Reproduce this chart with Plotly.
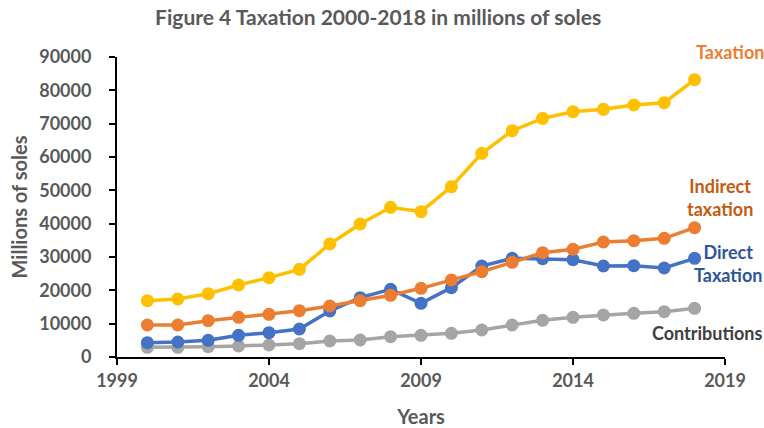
import plotly.graph_objects as go

years = list(range(2000, 2019))
taxation = [16900, 17400, 19000, 21600, 23800, 26300, 33900, 39900, 44900, 43600,
            51100, 61100, 67900, 71600, 73600, 74300, 75600, 76300, 83200]
indirect = [9600, 9600, 10900, 11900, 12800, 13900, 15300, 16900, 18500, 20600,
            23100, 25600, 28400, 31300, 32300, 34500, 34900, 35600, 38800]
direct = [4300, 4500, 5000, 6500, 7300, 8400, 13800, 17800, 20300, 16100,
          20800, 27300, 29600, 29500, 29200, 27300, 27400, 26700, 29600]
contrib = [2900, 2900, 3100, 3300, 3600, 4000, 4800, 5100, 6100, 6500,
           7100, 8100, 9600, 11000, 11900, 12600, 13100, 13600, 14600]

x_ticks = [1999, 2004, 2009, 2014, 2019]
y_ticks = list(range(0, 90001, 10000))

FONT = "Lato"
GREY = "#595959"

series = [
    ("Contributions", contrib, "#A5A5A5"),
    ("Direct Taxation", direct, "#4472C4"),
    ("Indirect taxation", indirect, "#ED7D31"),
    ("Taxation", taxation, "#FFC000"),
]

fig = go.Figure()
for name, vals, col in series:
    fig.add_trace(go.Scatter(
        x=years, y=vals, name=name, mode="lines+markers",
        line=dict(color=col, width=3.5),
        marker=dict(color=col, size=13),
        showlegend=False,
    ))

# series labels placed in paper coordinates next to the line ends
labels = [
    ("Taxation", 1.008, 1.017, "#ED7D31"),
    ("Indirect<br>taxation", 0.992, 0.533, "#C55A11"),
    ("Direct<br>Taxation", 1.005, 0.313, "#2F5597"),
    ("Contributions", 0.972, 0.080, "#404040"),
]
for txt, xv, yv, col in labels:
    fig.add_annotation(x=xv, y=yv, xref="paper", yref="paper", text=txt, showarrow=False,
                       font=dict(family=FONT, size=18, color=col, weight="bold"),
                       xanchor="center", yanchor="middle")

fig.update_layout(
    width=764, height=428,
    margin=dict(l=117, r=39, t=57, b=71, autoexpand=False),
    paper_bgcolor="white", plot_bgcolor="white",
    title=dict(text="<b>Figure 4 Taxation 2000-2018 in millions of soles</b>",
               x=0.495, xanchor="center", y=0.958, yanchor="middle",
               font=dict(family=FONT, size=21, color=GREY)),
    font=dict(family=FONT, color=GREY),
)
fig.update_xaxes(
    range=[1999, 2019], tickvals=x_ticks, ticktext=[str(v) for v in x_ticks],
    showgrid=False, zeroline=False, showline=True, linecolor="black", linewidth=2,
    ticks="outside", ticklen=6, tickwidth=2, tickcolor="black", automargin=False,
    tickfont=dict(family=FONT, size=18, color=GREY, weight="bold"),
    title=dict(text="<b>Years</b>", font=dict(family=FONT, size=20, color=GREY), standoff=21),
)
fig.update_yaxes(
    range=[0, 90000], tickvals=y_ticks, ticktext=[str(v) for v in y_ticks],
    showgrid=False, zeroline=False, showline=True, linecolor="black", linewidth=2,
    ticks="outside", ticklen=6, tickwidth=2, tickcolor="black", automargin=False,
    tickfont=dict(family=FONT, size=18, color=GREY, weight="bold"),
    ticklabelstandoff=14,
    title=dict(text="<b>Millions of soles</b>", font=dict(family=FONT, size=20, color=GREY), standoff=6),
)

fig.write_html("out.html")
